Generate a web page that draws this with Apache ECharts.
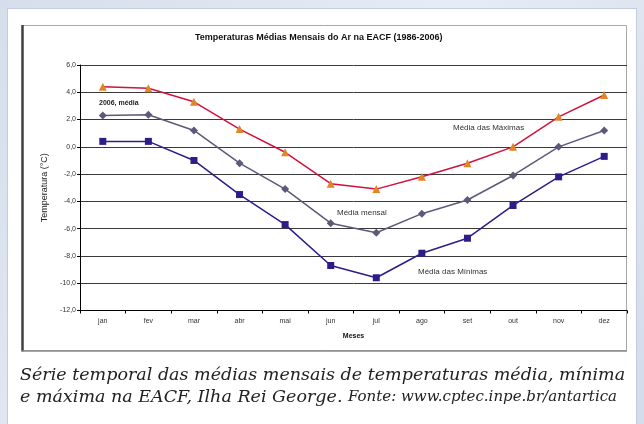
<!DOCTYPE html>
<html><head><meta charset="utf-8">
<script src="https://cdn.jsdelivr.net/npm/echarts@6/dist/echarts.min.js"></script>
<style>html,body{margin:0;padding:0;background:#dfe6f1;}#c{width:644px;height:424px;}</style>
</head><body><div id="c"></div>
<script>
const months = ['jan','fev','mar','abr','mai','jun','jul','ago','set','out','nov','dez'];
const mediaMaximas = [4.4, 4.3, 3.3, 1.3, -0.4, -2.7, -3.1, -2.2, -1.2, 0.0, 2.2, 3.8];
const mediaMensal = [2.3, 2.35, 1.2, -1.2, -3.1, -5.6, -6.3, -4.9, -3.9, -2.1, 0.0, 1.2];
const mediaMinimas = [0.4, 0.4, -1.0, -3.5, -5.7, -8.7, -9.6, -7.8, -6.7, -4.3, -2.2, -0.7];
const yTicks = {min: -12, max: 6, step: 2};

const chart = echarts.init(document.getElementById('c'), null, {renderer: 'canvas'});
const f = 'Arial, "Liberation Sans", sans-serif';
const serif = '"DejaVu Serif", "Liberation Serif", serif';
chart.setOption({
  animation: false,
  backgroundColor: {type: 'linear', x: 0, y: 0, x2: 1, y2: 1, colorStops: [
    {offset: 0, color: '#d6deec'}, {offset: 0.5, color: '#e6ecf5'}, {offset: 1, color: '#d3dceb'}]},
  graphic: [
    {type: 'rect', z: -10, shape: {x: 7.5, y: 8.5, width: 629, height: 420}, style: {fill: '#ffffff', stroke: '#c3cbdd', lineWidth: 1}},
    {type: 'rect', z: -9, shape: {x: 22.5, y: 25.5, width: 604, height: 325}, style: {fill: '#ffffff', stroke: '#a8a8a8', lineWidth: 1}},
    {type: 'line', z: -8, shape: {x1: 22.5, y1: 25, x2: 22.5, y2: 351.5}, style: {stroke: '#404040', lineWidth: 2.5}},
    {type: 'line', z: -8, shape: {x1: 22, y1: 351, x2: 627, y2: 351}, style: {stroke: '#8a8a8a', lineWidth: 1.5}},
    {type: 'text', left: 195, top: 33, style: {text: 'Temperaturas Médias Mensais do Ar na EACF (1986-2006)', font: 'bold 9px ' + f, fill: '#111'}},
    {type: 'text', left: 99, top: 100, style: {text: '2006, média', font: 'bold 7px ' + f, fill: '#222'}},
    {type: 'text', left: 453, top: 124, style: {text: 'Média das Máximas', font: '8px ' + f, fill: '#333'}},
    {type: 'text', left: 337, top: 209, style: {text: 'Média mensal', font: '8px ' + f, fill: '#333'}},
    {type: 'text', left: 418, top: 268, style: {text: 'Média das Mínimas', font: '8px ' + f, fill: '#333'}},
    {type: 'text', left: 20, top: 366, style: {text: 'Série temporal das médias mensais de temperaturas média, mínima', font: 'italic 17.5px ' + serif, fill: '#222'}},
    {type: 'text', left: 20, top: 388, style: {rich: {a: {font: 'italic 17.5px ' + serif, fill: '#222'}, b: {font: 'italic 15px ' + serif, fill: '#222'}}, text: '{a|e máxima na EACF, Ilha Rei George. }{b|Fonte: www.cptec.inpe.br/antartica}'}}
  ],
  grid: {left: 80, right: 17, top: 65, bottom: 113.5},
  xAxis: {
    type: 'category', data: months, boundaryGap: true,
    name: 'Meses', nameLocation: 'middle', nameGap: 22,
    nameTextStyle: {fontWeight: 'bold', fontSize: 7, fontFamily: f, color: '#111'},
    axisLine: {onZero: false, lineStyle: {color: '#000', width: 1}},
    axisTick: {show: true, length: 3, lineStyle: {color: '#000'}},
    axisLabel: {fontSize: 7, fontFamily: f, color: '#333', margin: 7}
  },
  yAxis: {
    type: 'value', min: yTicks.min, max: yTicks.max, interval: yTicks.step,
    name: 'Temperatura (°C)', nameLocation: 'middle', nameGap: 29, nameRotate: 90,
    nameTextStyle: {fontSize: 9, fontFamily: f, color: '#222'},
    axisLine: {show: true, lineStyle: {color: '#000', width: 1}},
    axisTick: {show: true, length: 3, lineStyle: {color: '#000'}},
    axisLabel: {fontSize: 7, fontFamily: f, color: '#333', margin: 4, formatter: v => v.toFixed(1).replace('.', ',')},
    splitLine: {lineStyle: {color: '#3a3a3a', width: 1}}
  },
  series: [
    {name: 'Média das Máximas', type: 'line', data: mediaMaximas, symbol: 'triangle', symbolSize: 8,
     lineStyle: {color: '#d2123c', width: 1.5}, itemStyle: {color: '#e0862a'}},
    {name: 'Média mensal', type: 'line', data: mediaMensal, symbol: 'diamond', symbolSize: 8,
     lineStyle: {color: '#5b5a7a', width: 1.5}, itemStyle: {color: '#5b5a7a'}},
    {name: 'Média das Mínimas', type: 'line', data: mediaMinimas, symbol: 'rect', symbolSize: 7,
     lineStyle: {color: '#2f1c88', width: 1.5}, itemStyle: {color: '#2f1c88'}}
  ]
});
</script></body></html>
